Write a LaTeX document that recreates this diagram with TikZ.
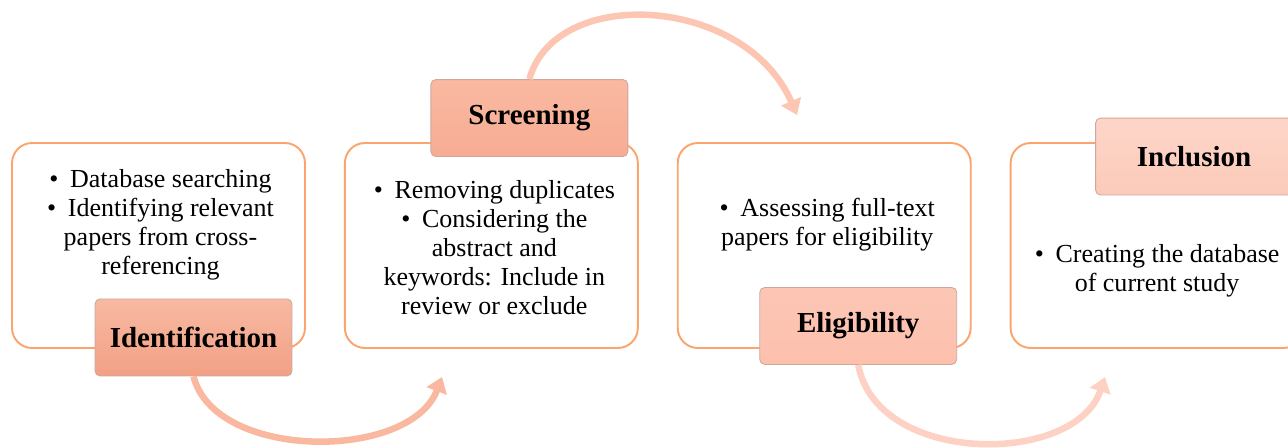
\documentclass[tikz,border=0pt]{standalone}
\usepackage{fontspec}
\setmainfont{Liberation Serif}
\usetikzlibrary{positioning, calc, arrows.meta}
\definecolor{boxline}{HTML}{FBA46E}
\definecolor{tagline}{HTML}{CDA89C}
\definecolor{identtop}{HTML}{F8B9A2}
\definecolor{identbot}{HTML}{F2A085}
\definecolor{scrtop}{HTML}{FAB9A2}
\definecolor{scrbot}{HTML}{F7AC93}
\definecolor{eligtop}{HTML}{FCC6B5}
\definecolor{eligbot}{HTML}{FDC0AD}
\definecolor{incltop}{HTML}{FDD6C9}
\definecolor{inclbot}{HTML}{FCCAB9}
\definecolor{arrowa}{HTML}{F9B89F}
\definecolor{arrowb}{HTML}{FCC6B3}
\definecolor{arrowc}{HTML}{FDD2C4}
\tikzset{stagebox/.style={draw=boxline, line width=1.1pt, rounded corners=0.4cm,
    minimum width=5.86cm, minimum height=4.1cm, inner sep=0pt}}
\tikzset{bullets/.style={align=center, font=\fontsize{14.8}{16.5}\selectfont}}
\tikzset{phasetag/.style={draw=tagline, line width=0.5pt, rounded corners=0.1cm,
    minimum width=3.94cm, minimum height=1.54cm, inner sep=0pt,
    font=\fontsize{16.5}{18}\selectfont\bfseries}}
\tikzset{flow/.style={line width=0.13cm, -{Triangle[width=0.42cm,length=0.3cm]}}}
\newcommand{\bul}{\textbullet\hspace{0.45em}}

\begin{document}
\begin{tikzpicture}[x=0.02cm, y=0.02cm]
  \useasboundingbox (0,0) rectangle (1288,447);
  \clip (0,0) rectangle (1288,447);

  % stage frames
  \node[stagebox] (b1) at (158.5,201.5) {};
  \node[stagebox] (b2) [right=0.76cm of b1] {};
  \node[stagebox] (b3) [right=0.76cm of b2] {};
  \node[stagebox] (b4) [right=0.76cm of b3] {};

  % contents
  \node[bullets] (t1) at ($(b1.center)+(2,21)$)
  {\bul Database searching\\ \bul Identifying relevant\\ papers from cross-\\ referencing};
  \node[bullets] (t2) at ($(b2.center)+(3,-2)$)
  {\bul Removing duplicates\\ \bul Considering the\\ abstract and\\ keywords: Include in\\ review or exclude};
  \node[bullets] (t3) at ($(b3.center)+(3,21)$)
  {\bul Assessing full-text\\ papers for eligibility};
  \node[bullets] (t4) at ($(b4.center)+(0,-25)$)
  {\bul Creating the database\\ of current study};

  % phase tags
  \node[phasetag, top color=identtop, bottom color=identbot] (ident) at ($(b1.south)+(35,11.5)$) {Identification};
  \node[phasetag, top color=scrtop, bottom color=scrbot] (scr) at ($(b2.north)+(38,24)$) {Screening};
  \node[phasetag, top color=eligtop, bottom color=eligbot] (elig) at ($(b3.south)+(34,23)$) {Eligibility};
  \node[phasetag, top color=incltop, bottom color=inclbot] (incl) at ($(b4.north)+(37,-14.5)$) {Inclusion};

  % arrows
  \coordinate (e1) at (442,70);
  \coordinate (e2) at (797,332);
  \coordinate (e3) at (1105,70);
  \draw[flow, draw=arrowa] (ident.south) .. controls (215,-14) and (410,-14) .. (e1);
  \draw[flow, draw=arrowb] (scr.north) .. controls (555,462) and (745,452) .. (e2);
  \draw[flow, draw=arrowc] (elig.south) .. controls (877,-19) and (1075,-19) .. (e3);

\end{tikzpicture}
\end{document}
